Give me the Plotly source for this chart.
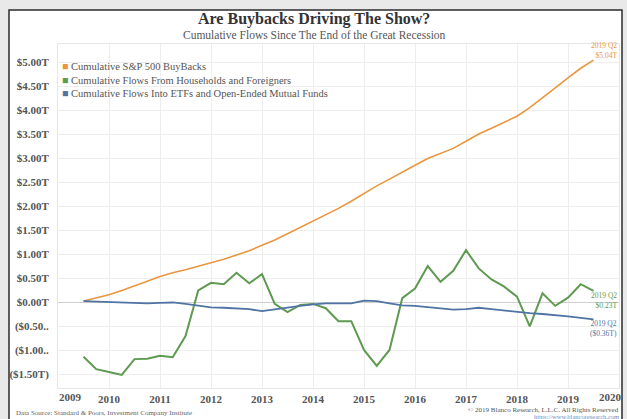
import plotly.graph_objects as go

# Quarterly observations, 2009 Q2 through 2019 Q2 (trillions of USD)
quarters = [f"{y} Q{q}" for y in range(2009, 2020) for q in range(1, 5)][1:42]

buybacks = [0.02, 0.08, 0.15, 0.24, 0.33, 0.43, 0.53, 0.61, 0.67, 0.74,
            0.81, 0.89, 0.98, 1.07, 1.18, 1.29, 1.42, 1.55, 1.68, 1.82,
            1.95, 2.10, 2.26, 2.42, 2.56, 2.71, 2.85, 2.99, 3.10, 3.20,
            3.35, 3.50, 3.62, 3.74, 3.87, 4.05, 4.25, 4.46, 4.67, 4.87,
            5.04]

households_foreigners = [-1.14, -1.40, -1.46, -1.52, -1.19, -1.18, -1.12, -1.15, -0.71, 0.24,
                         0.40, 0.37, 0.61, 0.39, 0.58, -0.04, -0.21, -0.06, -0.04, -0.13,
                         -0.40, -0.40, -1.00, -1.33, -1.00, 0.08, 0.28, 0.75, 0.42, 0.65,
                         1.08, 0.70, 0.47, 0.32, 0.11, -0.51, 0.18, -0.08, 0.09, 0.37,
                         0.23]

etf_mutual_funds = [0.02, 0.01, 0.00, 0.00, -0.02, -0.03, -0.02, -0.01, -0.04, -0.08,
                    -0.11, -0.12, -0.13, -0.15, -0.19, -0.15, -0.11, -0.08, -0.05, -0.03,
                    -0.03, -0.03, 0.03, 0.02, -0.03, -0.07, -0.08, -0.11, -0.14, -0.16,
                    -0.15, -0.12, -0.15, -0.18, -0.20, -0.23, -0.25, -0.27, -0.30, -0.33,
                    -0.36]

series_names = ["Cumulative S&P 500 BuyBacks",
                "Cumulative Flows From Households and Foreigners",
                "Cumulative Flows Into ETFs and Open-Ended Mutual Funds"]
series_colors = ["#E9963F", "#5E9A50", "#4F74A3"]

year_ticks = list(range(2009, 2021))
y_tickvals = [5.0, 4.5, 4.0, 3.5, 3.0, 2.5, 2.0, 1.5, 1.0, 0.5, 0.0, -0.5, -1.0, -1.5]
y_ticktext = ["$5.00T", "$4.50T", "$4.00T", "$3.50T", "$3.00T", "$2.50T", "$2.00T",
              "$1.50T", "$1.00T", "$0.50T", "$0.00T", "($0.50..", "($1.00..", "($1.50T)"]


def quarter_to_x(label):
    y, q = label.split(" Q")
    return int(y) + (int(q) - 1) * 0.25 + 0.25


xs = [quarter_to_x(q) for q in quarters]

SERIF = "'Liberation Serif', 'Times New Roman', serif"

# canvas geometry (pixels) used to place paper-referenced decorations
W, H = 627, 419
L, R, T, B = 58, 8, 44, 31
pw, ph = W - L - R, H - T - B


def px(x):
    return (x - L) / pw


def py(y):
    return (H - B - y) / ph


fig = go.Figure()
for vals, name, color, width in zip([buybacks, households_foreigners, etf_mutual_funds],
                                    series_names, series_colors, [1.6, 2.0, 1.8]):
    fig.add_trace(go.Scatter(x=xs, y=vals, mode="lines", name=name,
                             line=dict(color=color, width=width), showlegend=False))

# white card with a dark frame
fig.add_shape(type="rect", xref="paper", yref="paper",
              x0=px(9), x1=px(622), y0=py(430), y1=py(10),
              fillcolor="white", line=dict(color="#2b2b2b", width=1.5), layer="below")

ann = []
ann.append(dict(text="<b>Are Buybacks Driving The Show?</b>", xref="paper", yref="paper",
                x=px(314), y=py(19), xanchor="center", yanchor="middle", showarrow=False,
                font=dict(family=SERIF, size=16, color="#333333")))
ann.append(dict(text="Cumulative Flows Since The End of the Great Recession", xref="paper",
                yref="paper", x=px(314), y=py(35), xanchor="center", yanchor="middle",
                showarrow=False, font=dict(family=SERIF, size=11.5, color="#555555")))

# legend block with coloured squares
legend_lines = "<br>".join(
    f'<span style="color:{c}">■</span> {n}' for n, c in zip(series_names, series_colors))
ann.append(dict(text=legend_lines, xref="paper", yref="paper", x=px(60), y=py(59),
                xanchor="left", yanchor="top", align="left", showarrow=False,
                font=dict(family=SERIF, size=10.5, color="#555555")))

# end-of-series value labels
last_q = quarters[-1]
for vals, color, yoff in zip([buybacks, households_foreigners, etf_mutual_funds],
                             series_colors, [0.2, -0.2, -0.2]):
    v = vals[-1]
    vtxt = f"${v:.2f}T" if v >= 0 else f"(${abs(v):.2f}T)"
    ann.append(dict(text=f"{last_q}<br>{vtxt}", xref="paper", yref="y",
                    x=px(619), y=v + yoff, xanchor="right", yanchor="middle",
                    align="right", showarrow=False,
                    font=dict(family=SERIF, size=7.5, color=color)))

# first and last year labels sit inside the plot edges
for yr, shift in [(year_ticks[0], 12), (year_ticks[-1], -9)]:
    ann.append(dict(text=f"<b>{yr}</b>", xref="x", yref="paper", x=yr, y=py(397),
                    xshift=shift, xanchor="center", yanchor="middle", showarrow=False,
                    font=dict(family=SERIF, size=11, color="#555555")))

ann.append(dict(text="Data Source: Standard & Poors, Investment Company Institute",
                xref="paper", yref="paper", x=px(14), y=py(413), xanchor="left",
                yanchor="middle", showarrow=False,
                font=dict(family=SERIF, size=7, color="#666666")))
ann.append(dict(text="© 2019 Blanco Research, L.L.C. All Rights Reserved",
                xref="paper", yref="paper", x=px(621), y=py(410), xanchor="right",
                yanchor="middle", showarrow=False,
                font=dict(family=SERIF, size=7, color="#555555")))
ann.append(dict(text="https://www.blancoresearch.com",
                xref="paper", yref="paper", x=px(621), y=py(416.5), xanchor="right",
                yanchor="middle", showarrow=False,
                font=dict(family=SERIF, size=6.5, color="#6a8fc0")))

fig.update_layout(
    width=W, height=H,
    margin=dict(l=L, r=R, t=T, b=B),
    paper_bgcolor="#e9e9e9",
    plot_bgcolor="white",
    annotations=ann,
    showlegend=False,
    xaxis=dict(range=[2009, 2020], tickvals=year_ticks,
               ticktext=[""] + [f"<b>{y}</b>" for y in year_ticks[1:-1]] + [""],
               showgrid=True, gridcolor="#eeeeee", gridwidth=1,
               zeroline=False, showline=True, linecolor="#e6e6e6", mirror=True,
               ticks="", ticklabelstandoff=1,
               tickfont=dict(family=SERIF, size=11, color="#555555")),
    yaxis=dict(range=[(302 - (H - B)) / 48, (302 - T) / 48], tickvals=y_tickvals,
               ticktext=[f"<b>{t}</b>" for t in y_ticktext],
               showgrid=True, gridcolor="#eeeeee", gridwidth=1,
               zeroline=True, zerolinecolor="#cfcfcf", zerolinewidth=1.2,
               showline=True, linecolor="#e6e6e6", mirror=True, ticks="",
               ticklabelstandoff=6,
               tickfont=dict(family=SERIF, size=11, color="#555555")),
)

fig.write_html("out.html")
